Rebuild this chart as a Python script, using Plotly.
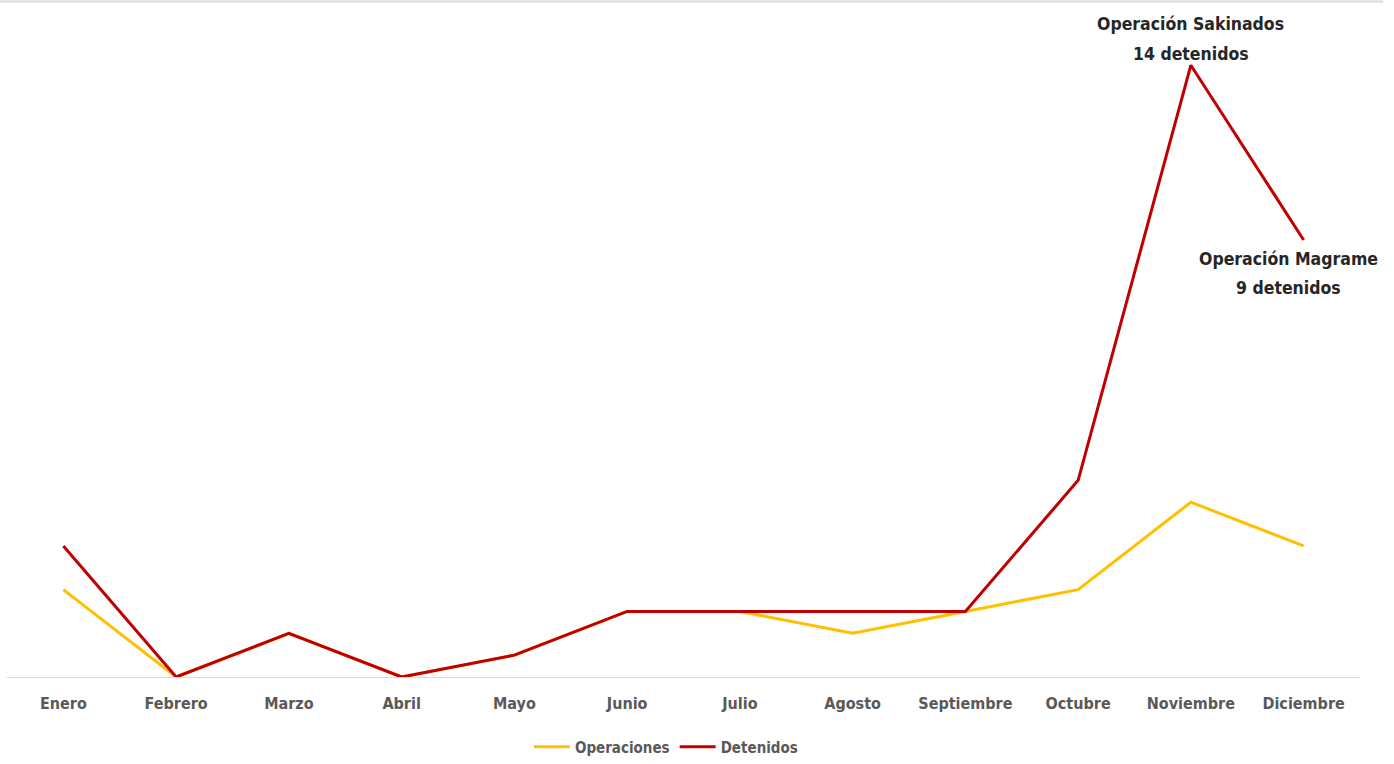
import plotly.graph_objects as go

meses = ["Enero", "Febrero", "Marzo", "Abril", "Mayo", "Junio", "Julio",
         "Agosto", "Septiembre", "Octubre", "Noviembre", "Diciembre"]
operaciones = [2, 0, 1, 0, 0.5, 1.5, 1.5, 1, 1.5, 2, 4, 3]
detenidos = [3, 0, 1, 0, 0.5, 1.5, 1.5, 1.5, 1.5, 4.5, 14, 10]

FONT = "DejaVu Sans Condensed, Roboto, sans-serif"

fig = go.Figure()
fig.add_trace(go.Scatter(x=meses, y=operaciones, mode="lines", name="Operaciones",
                         line=dict(color="#FFC000", width=3)))
fig.add_trace(go.Scatter(x=meses, y=detenidos, mode="lines", name="Detenidos",
                         line=dict(color="#C00000", width=3)))

L, R, T, B = 7, 34, 22, 87
W, H = 1394, 764
pw = W - L - R
ph = H - T - B

fig.update_layout(
    width=W, height=H,
    margin=dict(l=L, r=R, t=T, b=B, autoexpand=False),
    paper_bgcolor="white", plot_bgcolor="white",
    font=dict(family=FONT, color="#595959", size=16),
    xaxis=dict(range=[-0.5, 11.5], showgrid=False, zeroline=False,
               showline=True, linecolor="#D9D9D9", linewidth=1,
               ticks="", tickfont=dict(family=FONT, size=16, color="#595959", weight="bold"),
               ticklabelstandoff=12),
    yaxis=dict(range=[0, (677 - T) / 43.7], visible=False, showgrid=False, zeroline=False),
    legend=dict(orientation="h", x=0.487, xanchor="center",
                yref="container", y=(764 - 747) / 764, yanchor="middle",
                font=dict(family=FONT, size=15, color="#595959", weight="bold"),
                itemwidth=36, tracegroupgap=0, itemclick=False),
    showlegend=True,
)

ann_font = dict(family=FONT, size=17.5, color="#262626", weight="bold")
for txt, ys in [("Operación Sakinados", 41), ("14 detenidos", 11)]:
    fig.add_annotation(x="Noviembre", y=14, xref="x", yref="y", text=txt,
                       showarrow=False, yanchor="middle", yshift=ys, font=ann_font)
for txt, ys in [("Operación Magrame", -19), ("9 detenidos", -48)]:
    fig.add_annotation(x="Diciembre", y=10, xref="x", yref="y", text=txt,
                       showarrow=False, yanchor="middle", xshift=-15, yshift=ys,
                       font=ann_font)

fig.add_shape(type="line", xref="paper", yref="paper",
              x0=(0 - L) / pw, x1=(1383 - L) / pw,
              y0=(677 - 1.5) / ph, y1=(677 - 1.5) / ph,
              line=dict(color="#D9D9D9", width=2))

fig.write_html("out.html", config={"displayModeBar": False},
               post_script="document.body.style.margin='0';document.body.style.padding='0';")
